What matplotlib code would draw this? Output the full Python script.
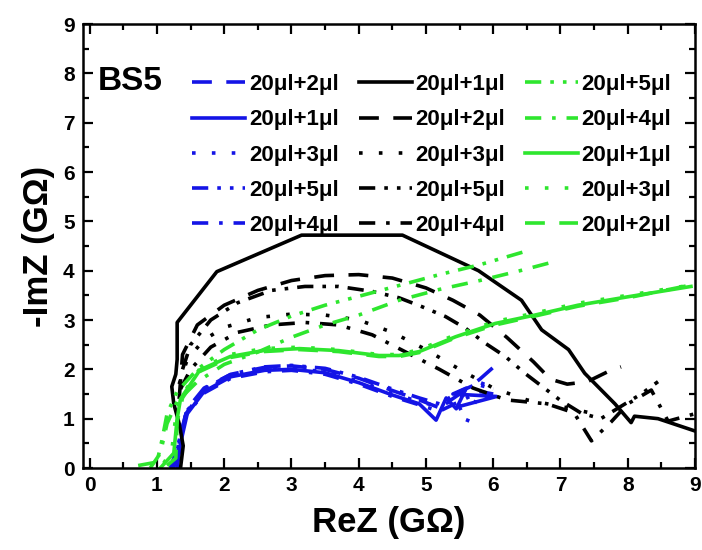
import matplotlib
matplotlib.use("Agg")
import matplotlib.pyplot as plt
from matplotlib.ticker import MultipleLocator

plt.rcParams['font.family'] = ['Liberation Sans', 'DejaVu Sans']
plt.rcParams['font.weight'] = 'bold'

# ---- data (ReZ, -ImZ in GOhm) ----
labels_blue = ["20μl+2μl", "20μl+1μl", "20μl+3μl", "20μl+5μl", "20μl+4μl"]
labels_black = ["20μl+1μl", "20μl+2μl", "20μl+3μl", "20μl+5μl", "20μl+4μl"]
labels_green = ["20μl+5μl", "20μl+4μl", "20μl+1μl", "20μl+3μl", "20μl+2μl"]

blue_2_x = [1.28, 1.34, 1.45, 1.7, 2.1, 2.6, 3.0, 3.5, 4.0, 4.5, 4.9, 5.2, 5.5, 5.8, 6.05]
blue_2_y = [0.05, 0.6, 1.2, 1.62, 1.9, 2.04, 2.07, 2.0, 1.82, 1.57, 1.38, 1.22, 1.5, 1.8, 2.1]
blue_1_x = [1.3, 1.35, 1.45, 1.7, 2.1, 2.6, 3.0, 3.5, 4.0, 4.5, 4.9, 5.15, 5.3, 5.45, 5.6, 5.4, 6.05, 5.5]
blue_1_y = [0.0, 0.5, 1.1, 1.55, 1.85, 1.98, 2.0, 1.93, 1.73, 1.48, 1.3, 0.97, 1.42, 1.2, 1.62, 1.5, 1.45, 1.25]
blue_3_x = [1.25, 1.33, 1.44, 1.7, 2.1, 2.6, 3.0, 3.5, 4.0, 4.5, 4.9, 5.2, 5.45, 5.6, 5.9]
blue_3_y = [0.0, 0.55, 1.15, 1.58, 1.87, 2.0, 2.02, 1.95, 1.76, 1.52, 1.34, 1.25, 1.4, 0.9, 1.9]
blue_5_x = [1.22, 1.32, 1.43, 1.7, 2.1, 2.6, 3.0, 3.5, 4.0, 4.5, 4.9, 5.2, 5.5, 5.75, 6.0]
blue_5_y = [0.0, 0.45, 1.1, 1.6, 1.9, 2.05, 2.08, 2.02, 1.84, 1.6, 1.42, 1.3, 1.55, 1.7, 1.6]
blue_4_x = [1.2, 1.3, 1.42, 1.7, 2.1, 2.6, 3.0, 3.5, 4.0, 4.5, 4.9, 5.2, 5.5, 5.8, 6.0]
blue_4_y = [0.0, 0.4, 1.05, 1.52, 1.82, 1.95, 1.98, 1.9, 1.7, 1.45, 1.28, 1.15, 1.35, 1.55, 1.5]

black_1_x = [1.35, 1.39, 1.33, 1.25, 1.22, 1.28, 1.3, 1.3, 1.89, 3.15, 4.65, 5.78, 6.42, 6.62,
             6.72, 7.12, 7.36, 7.81, 8.05, 8.1, 8.45, 9.0]
black_1_y = [0.0, 0.45, 0.9, 1.3, 1.65, 1.9, 2.2, 2.95, 3.98, 4.72, 4.72, 4.0, 3.4, 3.0,
             2.8, 2.4, 1.92, 1.3, 0.92, 1.05, 1.0, 0.75]
black_2_x = [1.33, 1.38, 1.6, 2.0, 2.5, 3.0, 3.5, 4.0, 4.5, 5.0, 5.4, 5.8, 6.2, 6.6, 6.85,
             7.1, 7.4, 7.7, 7.9]
black_2_y = [1.4, 2.3, 2.9, 3.3, 3.6, 3.8, 3.9, 3.92, 3.85, 3.65, 3.4, 3.1, 2.65, 2.15, 1.8,
             1.7, 1.75, 1.95, 2.05]
black_3_x = [1.33, 1.45, 1.7, 2.0, 2.5, 3.0, 3.5, 4.0, 4.5, 5.0, 5.5, 6.0, 6.5, 7.0, 7.5]
black_3_y = [1.7, 2.2, 2.6, 2.85, 3.05, 3.12, 3.1, 3.0, 2.75, 2.4, 2.0, 1.62, 1.38, 1.25, 1.1]
black_5_x = [1.38, 1.5, 1.8, 2.2, 2.7, 3.2, 3.7, 4.2, 4.6, 4.94, 5.29, 5.59, 5.88, 6.18, 6.47,
             6.72, 6.99, 7.31, 7.6, 7.9, 8.2, 8.45]
black_5_y = [2.0, 2.5, 3.0, 3.35, 3.6, 3.68, 3.68, 3.58, 3.45, 3.27, 3.07, 2.83, 2.53, 2.26, 1.92,
             1.66, 1.38, 1.11, 1.0, 1.25, 1.5, 1.75]
black_4_x = [1.35, 1.5, 1.8, 2.2, 2.7, 3.2, 3.7, 4.2, 4.7, 5.2, 5.7, 6.2, 6.8, 7.2, 7.46, 7.75,
             8.0, 8.35, 8.6, 9.0]
black_4_y = [1.6, 2.0, 2.45, 2.75, 2.9, 2.95, 2.9, 2.7, 2.35, 2.0, 1.62, 1.38, 1.3, 1.12, 0.55,
             0.93, 1.3, 1.58, 0.95, 1.1]

green_5_x = [0.72, 1.0, 1.08, 1.15, 1.3, 1.6, 2.0, 2.5, 3.0, 3.5, 4.0, 4.6, 5.2, 5.8, 6.5]
green_5_y = [0.05, 0.12, 0.6, 1.1, 1.55, 2.0, 2.4, 2.8, 3.08, 3.3, 3.48, 3.7, 3.92, 4.12, 4.4]
green_4_x = [0.9, 1.05, 1.15, 1.3, 1.6, 2.0, 2.5, 3.0, 3.5, 4.0, 4.6, 5.2, 5.8, 6.4, 6.9]
green_4_y = [0.0, 0.3, 0.9, 1.35, 1.75, 2.1, 2.35, 2.65, 2.9, 3.1, 3.4, 3.62, 3.8, 4.0, 4.18]
green_1_x = [1.05, 1.25, 1.3, 1.35, 1.64, 2.09, 2.58, 3.12, 3.7, 4.3, 4.6, 4.9, 5.44, 6.03, 6.62,
             7.26, 8.0, 8.94]
green_1_y = [0.0, 0.3, 1.0, 1.4, 1.99, 2.26, 2.38, 2.42, 2.38, 2.28, 2.28, 2.36, 2.66, 2.93, 3.1,
             3.3, 3.47, 3.68]
green_3_x = [1.1, 1.22, 1.28, 1.36, 1.64, 2.09, 2.58, 3.12, 3.7, 4.3, 4.6, 4.9, 5.44, 6.03, 6.62,
             7.26, 8.0, 8.9]
green_3_y = [0.1, 0.35, 1.05, 1.45, 2.02, 2.3, 2.42, 2.45, 2.4, 2.3, 2.3, 2.4, 2.7, 2.97, 3.14,
             3.34, 3.5, 3.7]
green_2_x = [1.15, 1.28, 1.3, 1.38, 1.64, 2.09, 2.58, 3.12, 3.7, 4.3, 4.6, 4.9, 5.44, 6.03, 6.62,
             7.26, 8.0, 8.98]
green_2_y = [0.05, 0.2, 0.95, 1.42, 1.96, 2.24, 2.36, 2.4, 2.36, 2.26, 2.26, 2.34, 2.64, 2.9, 3.08,
             3.28, 3.45, 3.72]

# ---- styles ----
lw = 2.6
dashed = (0, (5.5, 4))
dotted = (0, (1, 4.5))
dashdotdot = (0, (4.5, 2.5, 1, 2.5, 1, 2.5))
dashdot = (0, (4.5, 3, 1, 3))
solid = "-"
blue, black, green = "#1414e6", "black", "#2ee62e"

series = [
    (blue_2_x, blue_2_y, blue, dashed, labels_blue[0]),
    (blue_1_x, blue_1_y, blue, solid, labels_blue[1]),
    (blue_3_x, blue_3_y, blue, dotted, labels_blue[2]),
    (blue_5_x, blue_5_y, blue, dashdotdot, labels_blue[3]),
    (blue_4_x, blue_4_y, blue, dashdot, labels_blue[4]),
    (black_1_x, black_1_y, black, solid, labels_black[0]),
    (black_2_x, black_2_y, black, dashed, labels_black[1]),
    (black_3_x, black_3_y, black, dotted, labels_black[2]),
    (black_5_x, black_5_y, black, dashdotdot, labels_black[3]),
    (black_4_x, black_4_y, black, dashdot, labels_black[4]),
    (green_5_x, green_5_y, green, dashdotdot, labels_green[0]),
    (green_4_x, green_4_y, green, dashdot, labels_green[1]),
    (green_1_x, green_1_y, green, solid, labels_green[2]),
    (green_3_x, green_3_y, green, dotted, labels_green[3]),
    (green_2_x, green_2_y, green, dashed, labels_green[4]),
]

fig = plt.figure(figsize=(7.02, 5.5), dpi=100)
ax = fig.add_axes([83 / 702, 1 - 468 / 550, 612 / 702, 444 / 550])

for xs, ys, col, ls, lab in series:
    ax.plot(xs, ys, color=col, ls=ls, lw=lw, label=lab)

ax.set_xlim(-0.1, 9.0)
ax.set_ylim(0, 9)
ax.xaxis.set_major_locator(MultipleLocator(1))
ax.xaxis.set_minor_locator(MultipleLocator(0.5))
ax.yaxis.set_major_locator(MultipleLocator(1))
ax.yaxis.set_minor_locator(MultipleLocator(0.5))
ax.tick_params(which="both", direction="in", top=True, right=True, width=1.6,
               labelsize=15, pad=6)
ax.tick_params(which="major", length=7)
ax.tick_params(which="minor", length=4.5)
for sp in ax.spines.values():
    sp.set_linewidth(1.8)

ax.set_xlabel("ReZ (GΩ)", fontsize=25, fontweight="bold", labelpad=8)
ax.set_ylabel("-ImZ (GΩ)", fontsize=25, fontweight="bold", labelpad=6)

ax.text(98 / 702, 1 - 82 / 550, "BS5", transform=fig.transFigure, fontsize=24,
        fontweight="bold", va="center", ha="left")

ax.legend(ncol=3, frameon=False, fontsize=16, loc="upper left",
          bbox_to_anchor=(181 / 702, 1 - 63 / 550), bbox_transform=fig.transFigure,
          borderpad=0, handlelength=2.4, handletextpad=0.15, columnspacing=0.9,
          labelspacing=0.64)

fig.savefig("out.png", dpi=100)
